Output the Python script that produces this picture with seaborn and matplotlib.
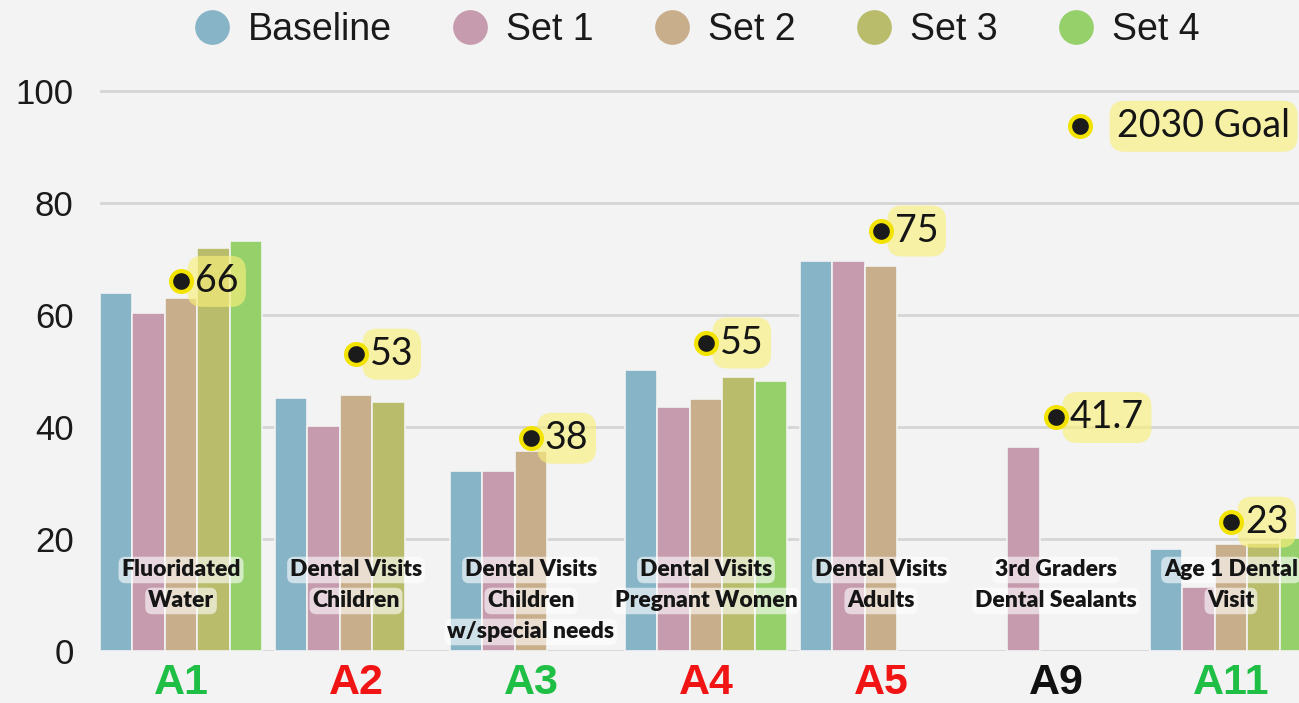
import numpy as np
import pandas as pd
import matplotlib.pyplot as plt
from matplotlib.lines import Line2D
import seaborn as sns

categories = ["A1", "A2", "A3", "A4", "A5", "A9", "A11"]
category_colors = ["#1fbf45", "#f01414", "#1fbf45", "#f01414", "#f01414", "#111111", "#1fbf45"]
category_names = [
    ["Fluoridated", "Water"],
    ["Dental Visits", "Children"],
    ["Dental Visits", "Children", "w/special needs"],
    ["Dental Visits", "Pregnant Women"],
    ["Dental Visits", "Adults"],
    ["3rd Graders", "Dental Sealants"],
    ["Age 1 Dental", "Visit"],
]
series = ["Baseline", "Set 1", "Set 2", "Set 3", "Set 4"]
series_colors = ["#87b4c6", "#c69bae", "#c9ae8c", "#b8bc6b", "#95d06a"]

baseline = [64.0, 45.2, 32.1, 50.2, 69.6, np.nan, 18.2]
set1 = [60.4, 40.1, 32.1, 43.6, 69.6, 36.5, 11.5]
set2 = [63.1, 45.8, 35.7, 45.0, 68.8, np.nan, 19.1]
set3 = [71.9, 44.5, np.nan, 48.9, np.nan, np.nan, 19.3]
set4 = [73.3, np.nan, np.nan, 48.2, np.nan, np.nan, 20.2]
goals_2030 = [66, 53, 38, 55, 75, 41.7, 23]

BG = "#f3f3f3"

df = pd.DataFrame({
    "category": np.tile(categories, len(series)),
    "series": np.repeat(series, len(categories)),
    "value": baseline + set1 + set2 + set3 + set4,
}).dropna()

sns.set_theme(style="whitegrid")
plt.rcParams["font.family"] = ["Liberation Sans", "DejaVu Sans"]

fig = plt.figure(figsize=(12.99, 7.03), dpi=100, facecolor=BG)
ax = fig.add_axes([0.077, 0.074, 0.923, 0.8284])
ax.set_facecolor(BG)

sns.barplot(data=df, x="category", y="value", hue="series", order=categories,
            hue_order=series, palette=series_colors, width=0.926, errorbar=None,
            edgecolor=BG, linewidth=1.2, saturation=1, ax=ax, legend=False)

ax.set_xlim(-0.463, 6.389)
ax.set_ylim(0, 104)
ax.set_yticks([0, 20, 40, 60, 80, 100])
ax.grid(axis="y", color="#d5d5d5", linewidth=2)
ax.grid(axis="x", visible=False)
ax.set_axisbelow(True)
for s in ax.spines.values():
    s.set_visible(False)
ax.set_xlabel("")
ax.set_ylabel("")
ax.tick_params(axis="y", length=0, pad=19, labelsize=25, labelcolor="#1a1a1a")
ax.tick_params(axis="x", length=0, pad=9)
for lbl, c in zip(ax.get_xticklabels(), category_colors):
    lbl.set_color(c)
    lbl.set_fontsize(31)
    lbl.set_fontweight("bold")

# category names inside the bars, one box per line
for i, lines in enumerate(category_names):
    for k, line in enumerate(lines):
        ax.annotate(line, xy=(i, 0), xytext=(0, (81 - 31 * k) * 0.72),
                    textcoords="offset points", ha="center", va="center",
                    fontsize=16.5, fontweight="heavy", family=["Lato", "DejaVu Sans"],
                    color="#151515", zorder=6,
                    bbox=dict(boxstyle="round,pad=0.12,rounding_size=0.3",
                              fc="white", ec="none", alpha=0.6))

# 2030 goal markers
marker_kw = dict(marker="o", markersize=15, markerfacecolor="#1b1b1b",
                 markeredgecolor="#f2e400", markeredgewidth=3, linestyle="none")
box_kw = dict(boxstyle="round,pad=0.2,rounding_size=0.4", fc="#f9f07a",
              ec="none", alpha=0.65)
for i, g in enumerate(goals_2030):
    ax.plot([i], [g], zorder=8, clip_on=False, **marker_kw)
    ax.annotate(f"{g:g}", xy=(i, g), xytext=(10, 0), textcoords="offset points",
                ha="left", va="center", fontsize=27, color="#151515",
                family=["Lato", "DejaVu Sans"], zorder=7, bbox=box_kw)

# 2030 goal legend entry
ax.plot([0.817], [0.901], transform=ax.transAxes, zorder=8, clip_on=False, **marker_kw)
ax.annotate("2030 Goal", xy=(0.817, 0.901), xycoords="axes fraction",
            xytext=(27, 0), textcoords="offset points", ha="left", va="center",
            fontsize=27, color="#151515", family=["Lato", "DejaVu Sans"],
            zorder=7, bbox=box_kw)

handles = [Line2D([0], [0], marker="o", linestyle="none", markersize=25,
                  markerfacecolor=c, markeredgecolor="none") for c in series_colors]
fig.legend(handles, series, loc="center", bbox_to_anchor=(0.536, 1 - 30 / 703),
           ncol=5, frameon=False, fontsize=27, handlelength=1.0,
           handletextpad=0.45, columnspacing=1.6, labelcolor="#1a1a1a")

fig.savefig("out.png", dpi=100, facecolor=BG)
